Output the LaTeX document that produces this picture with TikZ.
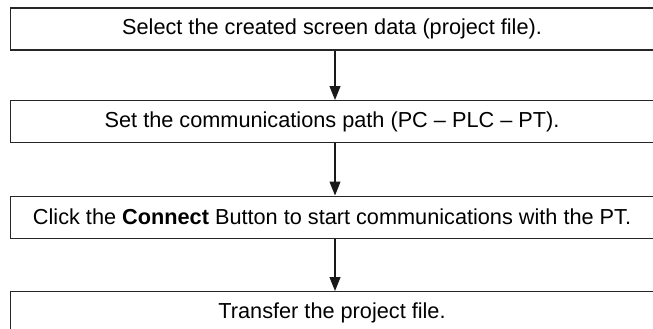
\documentclass[tikz,border=0pt]{standalone}
\usepackage{fontspec}
\setmainfont{Liberation Sans}
\usetikzlibrary{arrows.meta}

\begin{document}
\begin{tikzpicture}[x=1pt,y=-1pt]
	\tikzset{
		stepbox/.style={draw=black!85, line width=1.1pt, minimum width=644pt, minimum height=42pt, anchor=north west, inner sep=0pt, font=\fontsize{21.7}{26}\selectfont},
		flow/.style={draw=black!90, line width=1.1pt, -{Triangle[width=11pt,length=14pt]}}
	}
	\clip (0,0) rectangle (653,329);
	\foreach \i/\ytop/\txt in
	{
		1/7.5/{Select the created screen data (project file).},
		2/100/{Set the communications path (PC -- PLC -- PT).},
		3/195.5/{Click the \textbf{Connect} Button to start communications with the PT.},
		4/291/{Transfer the project file.}
	}
	{
		\node[stepbox] (s\i) at (9.5,\ytop) {\txt};
	}
	\coordinate (ax) at (335,0);
	\foreach \i [evaluate=\i as \j using int(\i+1)] in {1,2,3}
		\draw[flow] (s\i.south -| ax) -- (s\j.north -| ax);
\end{tikzpicture}
\end{document}
